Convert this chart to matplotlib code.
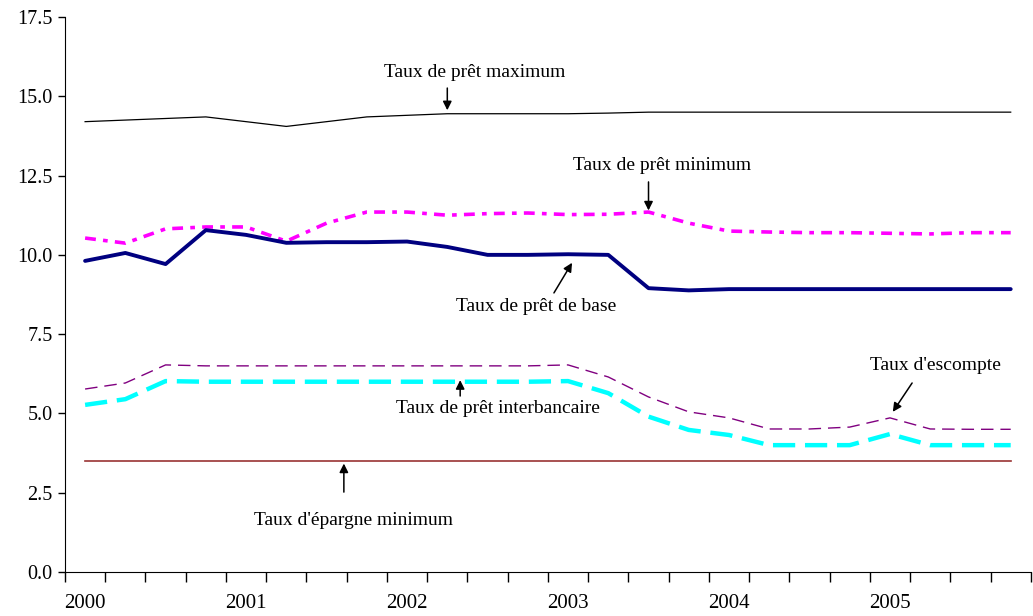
import matplotlib.pyplot as plt

# quarterly observations, 2000Q1 .. 2005Q4
quarters = [f"{y}T{q}" for y in range(2000, 2006) for q in range(1, 5)]
year_labels = ["2000", "2001", "2002", "2003", "2004", "2005"]

pret_max = [14.2, 14.25, 14.3, 14.35, 14.2, 14.05, 14.2, 14.35, 14.4, 14.45, 14.45, 14.45,
            14.45, 14.47, 14.5, 14.5, 14.5, 14.5, 14.5, 14.5, 14.5, 14.5, 14.5, 14.5]
pret_min = [10.53, 10.37, 10.82, 10.88, 10.88, 10.43, 11.0, 11.35, 11.35, 11.25, 11.3, 11.32,
            11.27, 11.28, 11.35, 11.0, 10.75, 10.72, 10.7, 10.7, 10.68, 10.66, 10.7, 10.7]
pret_base = [9.81, 10.06, 9.71, 10.78, 10.63, 10.38, 10.4, 10.4, 10.42, 10.25, 10.0, 10.0,
             10.02, 10.0, 8.95, 8.88, 8.92, 8.92, 8.92, 8.92, 8.92, 8.92, 8.92, 8.92]
escompte = [5.77, 5.96, 6.53, 6.5, 6.5, 6.5, 6.5, 6.5, 6.5, 6.5, 6.5, 6.5,
            6.53, 6.15, 5.52, 5.05, 4.86, 4.51, 4.51, 4.57, 4.86, 4.51, 4.5, 4.5]
interbancaire = [5.27, 5.45, 6.02, 6.0, 6.0, 6.0, 6.0, 6.0, 6.0, 6.0, 6.0, 6.0,
                 6.02, 5.64, 4.9, 4.48, 4.32, 4.0, 4.0, 4.0, 4.35, 4.0, 4.0, 4.0]
epargne_min = [3.5] * 24

plt.rcParams['font.family'] = ['Liberation Serif', 'DejaVu Serif']

fig = plt.figure(figsize=(10.33, 6.16), dpi=100)
ax = fig.add_axes([0.0629, 0.0714, 0.935, 0.901])

x = list(range(len(quarters)))
ax.plot(x, pret_max, color='black', lw=0.9)
ax.plot(x, pret_min, color='#FF00FF', lw=2.6, linestyle=(0, (3, 2, 1.3, 2)))
ax.plot(x, pret_base, color='#000080', lw=2.8, solid_capstyle='round')
ax.plot(x, escompte, color='#800080', lw=1.0, linestyle=(0, (9, 5)))
ax.plot(x, interbancaire, color='#00FFFF', lw=3.2, linestyle=(0, (5, 2.2)))
ax.plot(x, epargne_min, color='#993333', lw=1.2)

ax.set_xlim(-0.5, 23.5)
ax.set_ylim(0, 17.5)
ax.set_yticks([0, 2.5, 5, 7.5, 10, 12.5, 15, 17.5])
ax.set_yticklabels([f"{v:.1f}" for v in [0, 2.5, 5, 7.5, 10, 12.5, 15, 17.5]], fontsize=14.5)
ax.tick_params(axis='y', length=5, width=1, direction='out', pad=4)

# ticks between quarters, year labels under first quarter
ax.set_xticks([i - 0.5 for i in range(25)])
ax.set_xticklabels([])
ax.tick_params(axis='x', length=7, width=1, direction='out')
for k, lab in enumerate(year_labels):
    ax.text(4 * k, -0.98, lab, ha='center', va='center', fontsize=15)

ax.spines['top'].set_visible(False)
ax.spines['right'].set_visible(False)

arrow = dict(arrowstyle='-|>', color='black', lw=1.1, mutation_scale=13, shrinkA=0, shrinkB=0)
fs = 14
ax.text(9.69, 15.74, "Taux de prêt maximum", ha='center', va='center', fontsize=fs)
ax.annotate('', xy=(9.0, 14.56), xytext=(9.0, 15.26), arrowprops=arrow)

ax.text(14.34, 12.83, "Taux de prêt minimum", ha='center', va='center', fontsize=fs)
ax.annotate('', xy=(14.0, 11.4), xytext=(14.0, 12.3), arrowprops=arrow)

ax.text(11.2, 8.36, "Taux de prêt de base", ha='center', va='center', fontsize=fs)
ax.annotate('', xy=(12.1, 9.75), xytext=(11.65, 8.8), arrowprops=arrow)

ax.text(10.26, 5.17, "Taux de prêt interbancaire", ha='center', va='center', fontsize=fs)
ax.annotate('', xy=(9.32, 6.05), xytext=(9.32, 5.55), arrowprops=arrow)

ax.text(21.14, 6.5, "Taux d'escompte", ha='center', va='center', fontsize=fs)
ax.annotate('', xy=(20.07, 5.05), xytext=(20.55, 5.96), arrowprops=arrow)

ax.text(6.66, 1.64, "Taux d'épargne minimum", ha='center', va='center', fontsize=fs)
ax.annotate('', xy=(6.43, 3.42), xytext=(6.43, 2.52), arrowprops=arrow)

fig.savefig('out.png', dpi=100)
